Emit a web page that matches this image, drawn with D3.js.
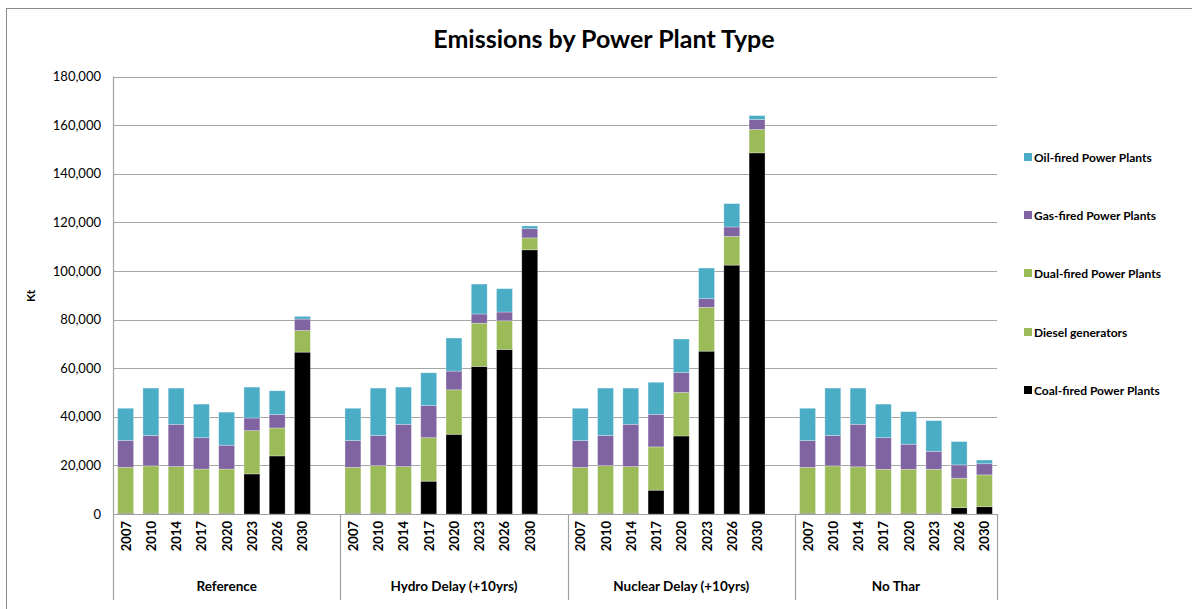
<!DOCTYPE html>
<html><head><meta charset="utf-8">
<script src="https://cdn.jsdelivr.net/npm/d3@7"></script>
<style>body{margin:0;background:#fff}svg{display:block}text{font-family:Lato,"Open Sans",sans-serif}</style>
</head><body><svg id="c" width="1192" height="609"></svg>
<script>
const groups = ["Reference","Hydro Delay (+10yrs)","Nuclear Delay (+10yrs)","No Thar"];
const years = ["2007","2010","2014","2017","2020","2023","2026","2030"];
const seriesNames = ["Coal-fired Power Plants","Diesel generators","Dual-fired Power Plants","Gas-fired Power Plants","Oil-fired Power Plants"];
const seriesColors = ["#000000","#9BBB59","#9BBB59","#8064A2","#4BACC6"];
const legendOrder = ["Oil-fired Power Plants","Gas-fired Power Plants","Dual-fired Power Plants","Diesel generators","Coal-fired Power Plants"];
const yTicks = [0,20000,40000,60000,80000,100000,120000,140000,160000,180000];

// values per group, in order of years
const coal = [
  [300,300,300,300,300,16500,23900,66600],
  [300,300,300,13500,32800,60700,67700,108700],
  [300,300,300,9800,32100,67000,102400,148600],
  [300,300,300,300,300,300,2600,3000]
];
const diesel = [
  [0,0,0,0,0,0,0,0],
  [0,0,0,0,0,0,0,0],
  [0,0,0,0,0,0,0,0],
  [0,0,0,0,0,0,0,0]
];
const dual = [
  [18900,19500,19200,18200,18200,17800,11500,8900],
  [18900,19600,19200,17900,18300,17800,11800,4900],
  [18900,19600,19200,17800,17900,18000,11800,9600],
  [18900,19500,19100,18100,18100,18100,12100,13100]
];
const gas = [
  [11100,12500,17400,12900,9800,5200,5500,4700],
  [11000,12400,17400,13200,7700,3800,3600,3800],
  [11000,12400,17400,13400,8200,3600,3900,4100],
  [11000,12500,17500,13000,10300,7400,5500,4600]
];
const oil = [
  [13200,19500,14900,13800,13600,12700,9800,1100],
  [13300,19500,15300,13500,13600,12300,9600,1100],
  [13300,19500,14900,13200,13800,12600,9600,1600],
  [13300,19500,14900,13800,13400,12600,9600,1500]
];

const seriesData = [coal, diesel, dual, gas, oil];

// Build category slots: 8 years per group, plus an empty slot after each group except the last
const slots = [];
const rows = [];
groups.forEach((g, gi) => {
  years.forEach((y, yi) => {
    const key = g + "|" + y;
    slots.push(key);
    const r = {key, group: g, year: y};
    seriesNames.forEach((s, si) => r[s] = seriesData[si][gi][yi]);
    rows.push(r);
  });
  if (gi < groups.length - 1) slots.push(g + "|gap");
});

const svg = d3.select("#c");
const L = 113, R = 997, T = 76.5, B = 514;

// outer border
svg.append("rect").attr("x",6.5).attr("y",8.5).attr("width",1200).attr("height",700)
  .attr("fill","none").attr("stroke","#8a8a8a").attr("stroke-width",1);

const x = d3.scaleBand().domain(slots).range([L, R]).paddingInner(0.37).paddingOuter(0.185);
const y = d3.scaleLinear().domain([0,180000]).range([B, T]);

// gridlines
svg.append("g").selectAll("line").data(yTicks.slice(1)).join("line")
  .attr("x1",L).attr("x2",R).attr("y1",d=>Math.round(y(d))+0.5).attr("y2",d=>Math.round(y(d))+0.5)
  .attr("stroke","#a6a6a6").attr("stroke-width",1.2);

// y axis
const yAxis = d3.axisLeft(y).tickValues(yTicks).tickFormat(d3.format(",")).tickSize(0).tickPadding(12);
const ga = svg.append("g").attr("transform",`translate(${L},0)`).call(yAxis);
ga.select(".domain").remove();
ga.selectAll("text").attr("font-size",13).attr("fill","#000").attr("font-family","Lato, 'Open Sans', sans-serif");

// stacked bars
const stack = d3.stack().keys(seriesNames);
const stacked = stack(rows);
svg.append("g").selectAll("g").data(stacked).join("g")
  .attr("fill",(d,i)=>seriesColors[i])
  .selectAll("rect").data(d=>d.filter(p=>p[1]-p[0]>0)).join("rect")
  .attr("x",d=>x(d.data.key)).attr("width",x.bandwidth())
  .attr("y",d=>y(d[1])).attr("height",d=>y(d[0])-y(d[1]))
  .attr("stroke","rgba(255,255,255,0.35)").attr("stroke-width",0.8);

// axis lines
const axisColor = "#a0a0a0";
svg.append("line").attr("x1",L+0.5).attr("x2",L+0.5).attr("y1",T).attr("y2",600).attr("stroke",axisColor).attr("stroke-width",1.2);
svg.append("line").attr("x1",L).attr("x2",R).attr("y1",B+0.5).attr("y2",B+0.5).attr("stroke",axisColor).attr("stroke-width",1.2);

// group dividers
const gapKeys = groups.slice(0,-1).map(g=>g+"|gap");
const dividerX = gapKeys.map(k => x(k) + x.bandwidth()/2 + x.step()/2);
dividerX.concat([R]).forEach(dx=>{
  svg.append("line").attr("x1",Math.round(dx)+0.5).attr("x2",Math.round(dx)+0.5).attr("y1",B).attr("y2",600)
    .attr("stroke",axisColor).attr("stroke-width",1.2);
});

// year labels
svg.append("g").selectAll("text").data(rows).join("text")
  .attr("transform",d=>`translate(${x(d.key)+x.bandwidth()/2},521) rotate(-90)`)
  .attr("text-anchor","end").attr("dominant-baseline","central")
  .attr("font-size",13).attr("font-weight","bold").text(d=>d.year);

// group labels
const bounds = [L].concat(dividerX).concat([R]);
svg.append("g").selectAll("text").data(groups).join("text")
  .attr("x",(d,i)=>(bounds[i]+bounds[i+1])/2).attr("y",591)
  .attr("text-anchor","middle").attr("font-size",13.5).attr("font-weight","bold").text(d=>d);

// title
svg.append("text").attr("x",604).attr("y",48).attr("text-anchor","middle")
  .attr("font-size",25).attr("font-weight","bold").text("Emissions by Power Plant Type");

// y title
svg.append("text").attr("transform","translate(35,296) rotate(-90)").attr("text-anchor","middle")
  .attr("font-size",12).attr("font-weight","bold").text("Kt");

// legend
const legendY = [157,215,273,332,390];
const lg = svg.append("g").selectAll("g").data(legendOrder).join("g")
  .attr("transform",(d,i)=>`translate(1024,${legendY[i]})`);
lg.append("rect").attr("x",0).attr("y",-4).attr("width",8).attr("height",8)
  .attr("fill",d=>seriesColors[seriesNames.indexOf(d)]);
lg.append("text").attr("x",10).attr("y",0).attr("dominant-baseline","central")
  .attr("font-size",12).attr("font-weight","bold").text(d=>d);
</script></body></html>
